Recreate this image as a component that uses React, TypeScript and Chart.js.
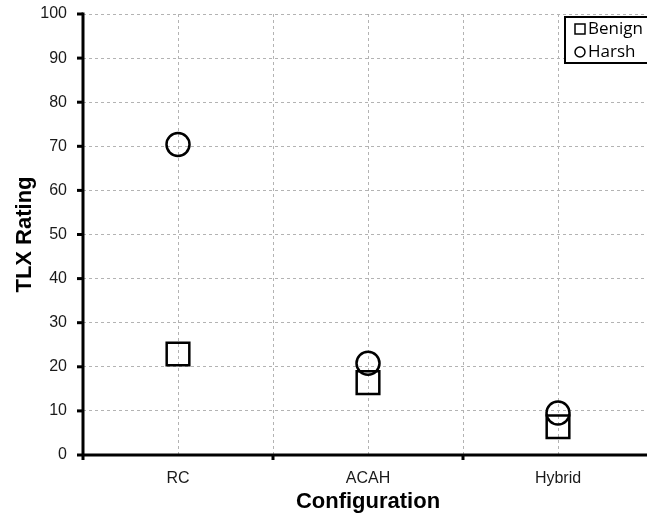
import React, { useEffect, useRef } from "react";
import { Chart, registerables } from "chart.js";

Chart.register(...registerables);

const categories = ["RC", "ACAH", "Hybrid"];
const benign = [22.9, 16.4, 6.4];
const harsh = [70.4, 20.8, 9.5];
const yTicks = [0, 10, 20, 30, 40, 50, 60, 70, 80, 90, 100];
const seriesNames = ["Benign", "Harsh"];
const xTitle = "Configuration";
const yTitle = "TLX Rating";

const W = 647;
const H = 518;
const AREA = { left: 83, top: 14, right: 647, bottom: 455 };
const X_MAX = -0.5 + (AREA.right - AREA.left) / 190;

const zeroPad = (s: any) => {
  s.paddingTop = 0;
  s.paddingBottom = 0;
  s.paddingLeft = 0;
  s.paddingRight = 0;
};

const overlay = {
  id: "overlay",
  afterDraw(chart: any) {
    const ctx = chart.ctx;
    const a = chart.chartArea;
    const xs = chart.scales.x;
    const ys = chart.scales.y;
    ctx.save();
    ctx.strokeStyle = "#000";
    ctx.lineWidth = 3;
    ctx.beginPath();
    ctx.moveTo(a.left, ys.getPixelForValue(100) - 1.5);
    ctx.lineTo(a.left, a.bottom + 5);
    ctx.stroke();
    ctx.beginPath();
    ctx.moveTo(a.left, a.bottom);
    ctx.lineTo(W + 2, a.bottom);
    ctx.stroke();
    yTicks.forEach((v) => {
      const y = ys.getPixelForValue(v);
      ctx.beginPath();
      ctx.moveTo(a.left - 6, y);
      ctx.lineTo(a.left, y);
      ctx.stroke();
    });
    for (let i = 0; i < categories.length - 1; i++) {
      const x = xs.getPixelForValue(i + 0.5);
      ctx.beginPath();
      ctx.moveTo(x, a.bottom);
      ctx.lineTo(x, a.bottom + 5);
      ctx.stroke();
    }
    ctx.fillStyle = "#000";
    ctx.font = "bold 22px 'Liberation Sans', Arial, sans-serif";
    ctx.textAlign = "center";
    ctx.textBaseline = "middle";
    ctx.fillText(xTitle, (a.left + xs.getPixelForValue(2.5)) / 2, 502);
    ctx.save();
    ctx.translate(25, (a.top + a.bottom) / 2);
    ctx.rotate(-Math.PI / 2);
    ctx.fillText(yTitle, 0, 0);
    ctx.restore();
    const lx = 565, ly = 17, lw = 95, lh = 46;
    ctx.fillStyle = "#fff";
    ctx.fillRect(lx, ly, lw, lh);
    ctx.lineWidth = 2;
    ctx.strokeRect(lx, ly, lw, lh);
    ctx.lineWidth = 1.5;
    ctx.strokeRect(575, 24, 10, 10);
    ctx.beginPath();
    ctx.arc(580, 52, 5, 0, Math.PI * 2);
    ctx.stroke();
    ctx.fillStyle = "#000";
    ctx.font = "17px 'Open Sans', sans-serif";
    ctx.textAlign = "left";
    ctx.textBaseline = "middle";
    ctx.fillText(seriesNames[0], 588, 29);
    ctx.fillText(seriesNames[1], 588, 52);
    ctx.restore();
  },
};

export default function App() {
  const ref = useRef<HTMLCanvasElement>(null);
  useEffect(() => {
    document.body.style.margin = "0";
    const canvas = ref.current!;
    const chart = new Chart(canvas, {
      type: "scatter",
      data: {
        datasets: [
          {
            label: seriesNames[0],
            data: benign.map((v, i) => ({ x: i, y: v })),
            pointStyle: "rect",
            pointRadius: 16,
            pointHoverRadius: 16,
            borderColor: "#000",
            backgroundColor: "rgba(0,0,0,0)",
            pointBorderWidth: 2.5,
          },
          {
            label: seriesNames[1],
            data: harsh.map((v, i) => ({ x: i, y: v })),
            pointStyle: "circle",
            pointRadius: 11.5,
            pointHoverRadius: 11.5,
            borderColor: "#000",
            backgroundColor: "rgba(0,0,0,0)",
            pointBorderWidth: 2.5,
          },
        ],
      },
      options: {
        responsive: false,
        animation: false,
        devicePixelRatio: 1,
        layout: {
          autoPadding: false,
          padding: { top: AREA.top, right: W - AREA.right, left: 0, bottom: 0 },
        },
        plugins: { legend: { display: false }, tooltip: { enabled: false } },
        scales: {
          x: {
            type: "linear",
            min: -0.5,
            max: X_MAX,
            afterFit: (s: any) => {
              s.height = H - AREA.bottom;
              zeroPad(s);
            },
            afterBuildTicks: (s: any) => {
              const t = [];
              for (let v = -0.5; v <= X_MAX; v += 0.5) t.push({ value: v });
              s.ticks = t;
            },
            ticks: {
              autoSkip: false,
              maxRotation: 0,
              padding: 14,
              color: "#1a1a1a",
              font: { family: "'Liberation Sans', Arial, sans-serif", size: 16 },
              callback: (v: any) => {
                const n = Number(v);
                return Number.isInteger(n) && categories[n] ? categories[n] : "";
              },
            },
            grid: { color: "#b3b3b3", lineWidth: 1, drawTicks: false },
            border: { display: false, dash: [3, 3] },
          },
          y: {
            min: 0,
            max: 100,
            afterFit: (s: any) => {
              s.width = AREA.left;
              zeroPad(s);
            },
            afterBuildTicks: (s: any) => {
              s.ticks = yTicks.map((v) => ({ value: v }));
            },
            ticks: {
              padding: 16,
              color: "#1a1a1a",
              font: { family: "'Liberation Sans', Arial, sans-serif", size: 16 },
            },
            grid: { color: "#b3b3b3", lineWidth: 1, drawTicks: false },
            border: { display: false, dash: [3, 3] },
          },
        },
      },
      plugins: [overlay],
    });
    return () => chart.destroy();
  }, []);
  return (
    <div style={{ width: W, height: H }}>
      <canvas ref={ref} width={W} height={H} style={{ display: "block" }} />
    </div>
  );
}
